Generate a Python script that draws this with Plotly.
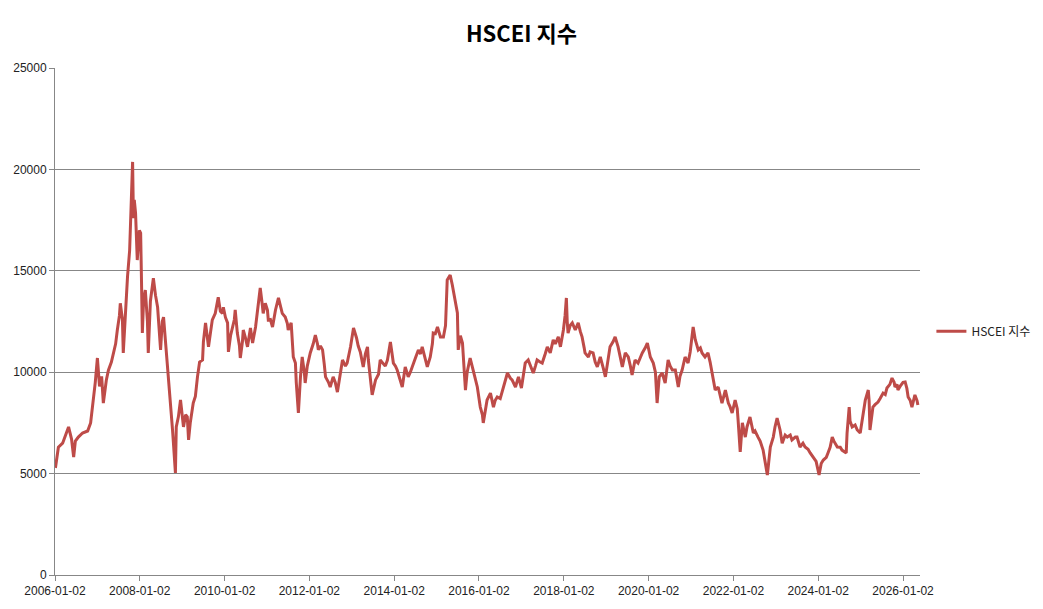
import pandas as pd
import plotly.graph_objects as go

# decimal-year time stamps and index values
years = [
    2006.01, 2006.08, 2006.18, 2006.25, 2006.32, 2006.39, 2006.44, 2006.48, 2006.55, 2006.65,
    2006.77, 2006.84, 2006.91, 2006.95, 2007.00, 2007.05, 2007.10, 2007.14, 2007.21, 2007.26,
    2007.33, 2007.38, 2007.43, 2007.47, 2007.52, 2007.54, 2007.59, 2007.61, 2007.66, 2007.71,
    2007.76, 2007.78, 2007.80, 2007.83, 2007.85, 2007.87, 2007.90, 2007.92, 2007.94, 2007.99,
    2008.02, 2008.04, 2008.06, 2008.09, 2008.13, 2008.18, 2008.20, 2008.25, 2008.30, 2008.32,
    2008.37, 2008.42, 2008.49, 2008.53, 2008.56, 2008.61, 2008.65, 2008.68, 2008.72, 2008.77,
    2008.79, 2008.84, 2008.86, 2008.91, 2008.96, 2009.01, 2009.03, 2009.08, 2009.12, 2009.15,
    2009.19, 2009.26, 2009.31, 2009.36, 2009.41, 2009.48, 2009.50, 2009.55, 2009.62, 2009.67,
    2009.71, 2009.78, 2009.83, 2009.85, 2009.90, 2009.95, 2009.97, 2010.02, 2010.07, 2010.09,
    2010.14, 2010.18, 2010.23, 2010.25, 2010.30, 2010.35, 2010.37, 2010.42, 2010.44, 2010.49,
    2010.54, 2010.61, 2010.66, 2010.73, 2010.77, 2010.80, 2010.84, 2010.89, 2010.91, 2010.96,
    2011.01, 2011.03, 2011.08, 2011.13, 2011.17, 2011.20, 2011.27, 2011.32, 2011.36, 2011.43,
    2011.48, 2011.50, 2011.57, 2011.62, 2011.67, 2011.69, 2011.74, 2011.79, 2011.83, 2011.88,
    2011.90, 2011.95, 2012.02, 2012.09, 2012.14, 2012.19, 2012.21, 2012.26, 2012.31, 2012.35,
    2012.38, 2012.45, 2012.49, 2012.56, 2012.61, 2012.66, 2012.73, 2012.78, 2012.85, 2012.89,
    2012.97, 2013.04, 2013.11, 2013.15, 2013.20, 2013.27, 2013.32, 2013.37, 2013.39, 2013.44,
    2013.48, 2013.56, 2013.63, 2013.67, 2013.74, 2013.79, 2013.84, 2013.91, 2013.98, 2014.03,
    2014.07, 2014.14, 2014.19, 2014.26, 2014.33, 2014.38, 2014.45, 2014.50, 2014.57, 2014.62,
    2014.66, 2014.73, 2014.78, 2014.85, 2014.90, 2014.92, 2014.97, 2015.02, 2015.09, 2015.16,
    2015.21, 2015.25, 2015.30, 2015.32, 2015.37, 2015.39, 2015.44, 2015.49, 2015.51, 2015.56,
    2015.61, 2015.65, 2015.68, 2015.72, 2015.79, 2015.86, 2015.91, 2015.96, 2016.03, 2016.08,
    2016.10, 2016.15, 2016.19, 2016.27, 2016.34, 2016.38, 2016.43, 2016.50, 2016.57, 2016.67,
    2016.74, 2016.78, 2016.86, 2016.93, 2017.00, 2017.04, 2017.09, 2017.16, 2017.21, 2017.28,
    2017.33, 2017.37, 2017.44, 2017.49, 2017.56, 2017.61, 2017.68, 2017.75, 2017.80, 2017.87,
    2017.92, 2017.96, 2017.99, 2018.03, 2018.06, 2018.08, 2018.10, 2018.15, 2018.20, 2018.27,
    2018.34, 2018.39, 2018.43, 2018.48, 2018.50, 2018.58, 2018.62, 2018.69, 2018.74, 2018.79,
    2018.86, 2018.93, 2018.98, 2019.02, 2019.09, 2019.16, 2019.21, 2019.28, 2019.33, 2019.38,
    2019.45, 2019.52, 2019.57, 2019.61, 2019.68, 2019.75, 2019.80, 2019.85, 2019.92, 2019.97,
    2020.04, 2020.11, 2020.16, 2020.20, 2020.25, 2020.32, 2020.39, 2020.46, 2020.51, 2020.56,
    2020.63, 2020.70, 2020.74, 2020.79, 2020.86, 2020.93, 2020.98, 2021.05, 2021.10, 2021.17,
    2021.22, 2021.26, 2021.33, 2021.40, 2021.45, 2021.50, 2021.57, 2021.64, 2021.69, 2021.73,
    2021.81, 2021.88, 2021.92, 2021.97, 2022.04, 2022.09, 2022.11, 2022.16, 2022.21, 2022.28,
    2022.32, 2022.39, 2022.47, 2022.51, 2022.58, 2022.63, 2022.70, 2022.75, 2022.80, 2022.87,
    2022.94, 2022.98, 2023.03, 2023.10, 2023.15, 2023.22, 2023.27, 2023.34, 2023.38, 2023.46,
    2023.50, 2023.57, 2023.64, 2023.69, 2023.76, 2023.81, 2023.88, 2023.95, 2024.02, 2024.07,
    2024.12, 2024.19, 2024.23, 2024.28, 2024.33, 2024.37, 2024.45, 2024.52, 2024.56, 2024.66,
    2024.68, 2024.73, 2024.75, 2024.80, 2024.87, 2024.92, 2024.99, 2025.03, 2025.11, 2025.18,
    2025.20, 2025.22, 2025.27, 2025.29, 2025.34, 2025.41, 2025.46, 2025.53, 2025.58, 2025.62,
    2025.69, 2025.74, 2025.79, 2025.81, 2025.86, 2025.88, 2025.93, 2026.00, 2026.05, 2026.09,
    2026.12, 2026.17, 2026.21, 2026.26, 2026.28, 2026.33, 2026.35,
]

values = [
    5280, 6300, 6500, 6900, 7300, 6700, 5820, 6600, 6800, 7000,
    7100, 7500, 8630, 9500, 10700, 9300, 9800, 8480, 9600, 10100,
    10500, 10950, 11400, 12080, 12800, 13400, 12600, 10950, 13000, 14700,
    16000, 17650, 19000, 20370, 17600, 18500, 17850, 16500, 15530, 17000,
    16860, 14500, 11930, 13600, 14050, 12500, 10950, 13500, 14300, 14640,
    13800, 13200, 11100, 12500, 12720, 11500, 10450, 9400, 8480, 7200,
    6600, 5030, 7300, 7800, 8630, 7800, 7300, 7900, 7800, 6660,
    7500, 8480, 8800, 9770, 10500, 10600, 11500, 12430, 11250, 12000,
    12580, 12900, 13400, 13700, 13000, 12900, 13200, 12700, 12430, 11000,
    11800, 12180, 12600, 13070, 11930, 11300, 10700, 11500, 12080, 11700,
    11250, 12180, 11440, 12230, 12900, 13400, 14150, 13300, 12900, 13400,
    13070, 12580, 12600, 12230, 12800, 13070, 13660, 13200, 12900, 12720,
    12400, 12080, 12430, 10750, 10450, 9500, 7990, 9800, 10750, 10000,
    9470, 10300, 10950, 11400, 11830, 11400, 11100, 11300, 11100, 10400,
    9770, 9500, 9270, 9770, 9500, 9020, 10100, 10600, 10300, 10450,
    11250, 12180, 11700, 11300, 11000, 10260, 10900, 11250, 10600, 9800,
    8880, 9620, 9900, 10600, 10450, 10300, 10600, 11490, 10450, 10300,
    10110, 9600, 9270, 10260, 9770, 10000, 10450, 10700, 11100, 10900,
    11250, 10700, 10260, 10750, 11400, 11930, 11900, 12230, 11740, 11740,
    12300, 14550, 14700, 14790, 14300, 14050, 13500, 12920, 11100, 11800,
    11440, 10000, 9120, 10000, 10700, 10110, 9700, 9270, 8280, 7900,
    7500, 8200, 8630, 8970, 8280, 8600, 8780, 8700, 9270, 9960,
    9700, 9620, 9270, 9770, 9220, 9900, 10450, 10600, 10300, 9960,
    10300, 10600, 10500, 10450, 10900, 11250, 10950, 11590, 11400, 11740,
    11250, 11700, 12080, 12800, 13660, 12500, 11930, 12300, 12430, 12080,
    12430, 12000, 11740, 11200, 10950, 10750, 11000, 10950, 10500, 10260,
    10750, 10200, 9770, 10300, 11250, 11500, 11740, 11250, 10800, 10260,
    10950, 10750, 10300, 9860, 10600, 10450, 10700, 10950, 11200, 11440,
    10750, 10450, 10000, 8480, 9770, 9960, 9470, 10600, 10300, 10110,
    10110, 9270, 9800, 10110, 10750, 10450, 11000, 12230, 11600, 11100,
    11200, 10950, 10750, 10950, 10500, 9960, 9120, 9270, 8900, 8480,
    9120, 8480, 8300, 7990, 8630, 8200, 7640, 6070, 7500, 6800,
    7300, 7790, 7000, 7100, 6800, 6600, 6160, 5600, 4930, 6310,
    6800, 7300, 7740, 7150, 6500, 6900, 6800, 6900, 6660, 6800,
    6800, 6310, 6500, 6310, 6200, 6020, 5820, 5600, 4930, 5500,
    5670, 5800, 6020, 6300, 6800, 6600, 6310, 6300, 6160, 6020,
    7000, 8280, 7600, 7300, 7400, 7150, 7000, 7500, 8630, 9120,
    8600, 7150, 7800, 8280, 8400, 8530, 8700, 8970, 8900, 9220,
    9400, 9710, 9500, 9270, 9400, 9120, 9300, 9500, 9520, 9200,
    8780, 8600, 8280, 8700, 8880, 8600, 8380,
]

tick_labels = ["2006-01-02", "2008-01-02", "2010-01-02", "2012-01-02", "2014-01-02",
               "2016-01-02", "2018-01-02", "2020-01-02", "2022-01-02", "2024-01-02",
               "2026-01-02"]
y_ticks = [0, 5000, 10000, 15000, 20000, 25000]

series_name = "HSCEI 지수"
title_text = "HSCEI 지수"

base = pd.Timestamp("2006-01-02")
dates = [base + pd.Timedelta(days=(y - 2006.0) * 365.25) for y in years]

fig = go.Figure()
fig.add_trace(go.Scatter(
    x=dates, y=values, mode="lines", name=series_name,
    line=dict(color="#BE4B48", width=3),
    showlegend=True,
))

grid = "#878787"
tick_font = dict(family="Liberation Sans Narrow, Arial Narrow, sans-serif", size=12, color="#222222")

fig.update_layout(
    width=1043, height=609,
    margin=dict(l=55, r=123, t=68, b=34, autoexpand=False),
    paper_bgcolor="white", plot_bgcolor="white",
    title=dict(text="<b>" + title_text + "</b>", x=0.5, xanchor="center",
               y=0.943, yanchor="middle",
               font=dict(family="Noto Sans CJK KR, sans-serif", size=22, color="#000000")),
    xaxis=dict(
        type="date",
        range=[base, base + pd.Timedelta(days=20.40 * 365.25)],
        tickvals=[pd.Timestamp(t) for t in tick_labels],
        ticktext=tick_labels,
        showgrid=False, zeroline=False,
        showline=True, linecolor=grid, linewidth=1,
        ticks="outside", ticklen=5, tickcolor=grid,
        tickfont=tick_font,
    ),
    yaxis=dict(
        range=[0, 25000],
        tickvals=y_ticks,
        ticktext=[str(v) for v in y_ticks],
        showgrid=True, gridcolor=grid, gridwidth=1,
        zeroline=False,
        showline=True, linecolor=grid, linewidth=1,
        ticks="outside", ticklen=5, tickcolor=grid,
        tickfont=tick_font,
    ),
    legend=dict(
        xref="container", yref="container",
        x=0.893, y=0.456, xanchor="left", yanchor="middle",
        font=dict(family="Noto Sans CJK KR, sans-serif", size=12, color="#222222"),
        bgcolor="rgba(0,0,0,0)",
    ),
)

fig.write_html("out.html")
